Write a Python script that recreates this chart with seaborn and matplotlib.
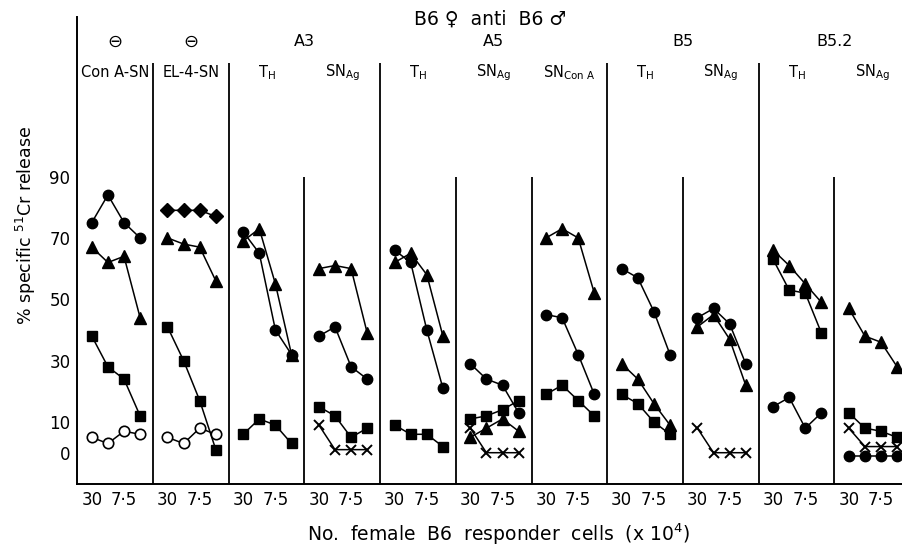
"""
B6 female anti B6 male — % specific 51Cr release vs number of responder cells.
Odtworzenie wykresu panelowego (11 paneli na wspolnej osi).
"""

import pandas as pd
import matplotlib
matplotlib.use('Agg')
import matplotlib.pyplot as plt
import seaborn as sns

# naglowki paneli
panel_labels = ['Con A-SN', 'EL-4-SN',
                r'T$_\mathregular{H}$', r'SN$_\mathregular{Ag}$',
                r'T$_\mathregular{H}$', r'SN$_\mathregular{Ag}$', r'SN$_\mathregular{Con\ A}$',
                r'T$_\mathregular{H}$', r'SN$_\mathregular{Ag}$',
                r'T$_\mathregular{H}$', r'SN$_\mathregular{Ag}$']
group_labels = ['⊖', '⊖', 'A3', 'A5', 'B5', 'B5.2']
group_spans = [(0, 1), (1, 2), (2, 4), (4, 7), (7, 9), (9, 11)]
dose_labels = ['30', '', '7·5', '']

# wartosci (% specific release) dla 4 dawek w kazdym z 11 paneli; None = brak serii
filled_circle = [[75, 84, 75, 70], None, [72, 65, 40, 32], [38, 41, 28, 24],
                 [66, 62, 40, 21], [29, 24, 22, 13], [45, 44, 32, 19],
                 [60, 57, 46, 32], [44, 47, 42, 29], [15, 18, 8, 13], [-1, -1, -1, -1]]
triangle = [[67, 62, 64, 44], [70, 68, 67, 56], [69, 73, 55, 32], [60, 61, 60, 39],
            [62, 65, 58, 38], [5, 8, 11, 7], [70, 73, 70, 52],
            [29, 24, 16, 9], [41, 45, 37, 22], [66, 61, 55, 49], [47, 38, 36, 28]]
square = [[38, 28, 24, 12], [41, 30, 17, 1], [6, 11, 9, 3], [15, 12, 5, 8],
          [9, 6, 6, 2], [11, 12, 14, 17], [19, 22, 17, 12],
          [19, 16, 10, 6], None, [63, 53, 52, 39], [13, 8, 7, 5]]
open_circle = [[5, 3, 7, 6], [5, 3, 8, 6], None, None, None, None, None,
               None, None, None, None]
diamond = [None, [79, 79, 79, 77], None, None, None, None, None,
           None, None, None, None]
cross = [None, None, None, [9, 1, 1, 1], None, [8, 0, 0, 0], None,
         None, [8, 0, 0, 0], None, [8, 2, 2, 2]]

W = 4.7          # szerokosc panelu w jednostkach osi x
OFFSET = 0.9     # polozenie pierwszej dawki w panelu
major_dividers = [1, 2, 4, 7, 9]

series = [
    ('circle', filled_circle, dict(marker='o', markersize=7.5, markerfacecolor='black')),
    ('triangle', triangle, dict(marker='^', markersize=8.5, markerfacecolor='black')),
    ('square', square, dict(marker='s', markersize=7, markerfacecolor='black')),
    ('open', open_circle, dict(marker='o', markersize=7.5, markerfacecolor='white',
                               markeredgewidth=1.2)),
    ('diamond', diamond, dict(marker='D', markersize=7, markerfacecolor='black')),
    ('cross', cross, dict(marker='x', markersize=7, markeredgewidth=1.4)),
]

rows = []
for name, values, _ in series:
    for i, vals in enumerate(values):
        if vals is None:
            continue
        for j, v in enumerate(vals):
            rows.append({'kind': name, 'panel': i, 'x': i * W + OFFSET + j, 'y': v})
df = pd.DataFrame(rows)

sns.set_style('white')
plt.rcParams['font.family'] = ['DejaVu Sans']
plt.rcParams['mathtext.default'] = 'regular'
for key in ['text.color', 'axes.labelcolor', 'xtick.color', 'ytick.color']:
    plt.rcParams[key] = 'black'

fig = plt.figure(figsize=(9.03, 5.49), dpi=100)
ax = fig.add_axes([77.3 / 903, 65 / 549, 11 * 75.7 / 903, 467 / 549])

for name, _, style in series:
    kw = dict(markeredgecolor='black', markeredgewidth=1.0)
    kw.update(style)
    sns.lineplot(data=df[df['kind'] == name], x='x', y='y', units='panel',
                 estimator=None, sort=False, color='black', lw=1.1,
                 legend=False, ax=ax, **kw)

ymin, ymax = -10.2, 142
ax.set_xlim(0, 11 * W)
ax.set_ylim(ymin, ymax)

# linie oddzielajace panele
for i in range(1, 11):
    top = 127 if i in major_dividers else 90
    ax.vlines(i * W, ymin, top, color='black', lw=1.3)

# osie
xt = [i * W + OFFSET + j for i in range(11) for j in range(4)]
ax.set_xticks(xt)
ax.set_xticklabels(dose_labels * 11)
ax.set_yticks(range(0, 100, 10))
ax.set_yticklabels(['0', '10', '', '30', '', '50', '', '70', '', '90'])
ax.tick_params(axis='x', direction='in', length=10, width=1.2, labelsize=12, pad=5,
               colors='black')
ax.tick_params(axis='y', direction='in', length=9.5, width=1.2, labelsize=12, pad=5,
               colors='black')
ax.set_xlabel('')
ax.set_ylabel('')
for side in ['top', 'right']:
    ax.spines[side].set_visible(False)
for side in ['left', 'bottom']:
    ax.spines[side].set_linewidth(1.4)
    ax.spines[side].set_color('black')

# naglowki
for i, lab in enumerate(panel_labels):
    ax.text((i + 0.5) * W, 124, lab, ha='center', va='center', fontsize=10.5)
for lab, (a, b) in zip(group_labels, group_spans):
    ax.text((a + b) / 2 * W, 134, lab, ha='center', va='center',
            fontsize=11.5 if lab != '⊖' else 13)
fig.text(490 / 903, 1 - 19 / 549, 'B6 ♀  anti  B6 ♂', ha='center', va='center', fontsize=13.5)

fig.text(26 / 903, 1 - 225 / 549, '% specific $^{51}$Cr release', rotation=90,
         ha='center', va='center', fontsize=12.5)
fig.text(498 / 903, 1 - 534 / 549, 'No.  female  B6  responder  cells  (x 10$^{4}$)',
         ha='center', va='center', fontsize=13.5)

fig.savefig('out.png', dpi=100)
